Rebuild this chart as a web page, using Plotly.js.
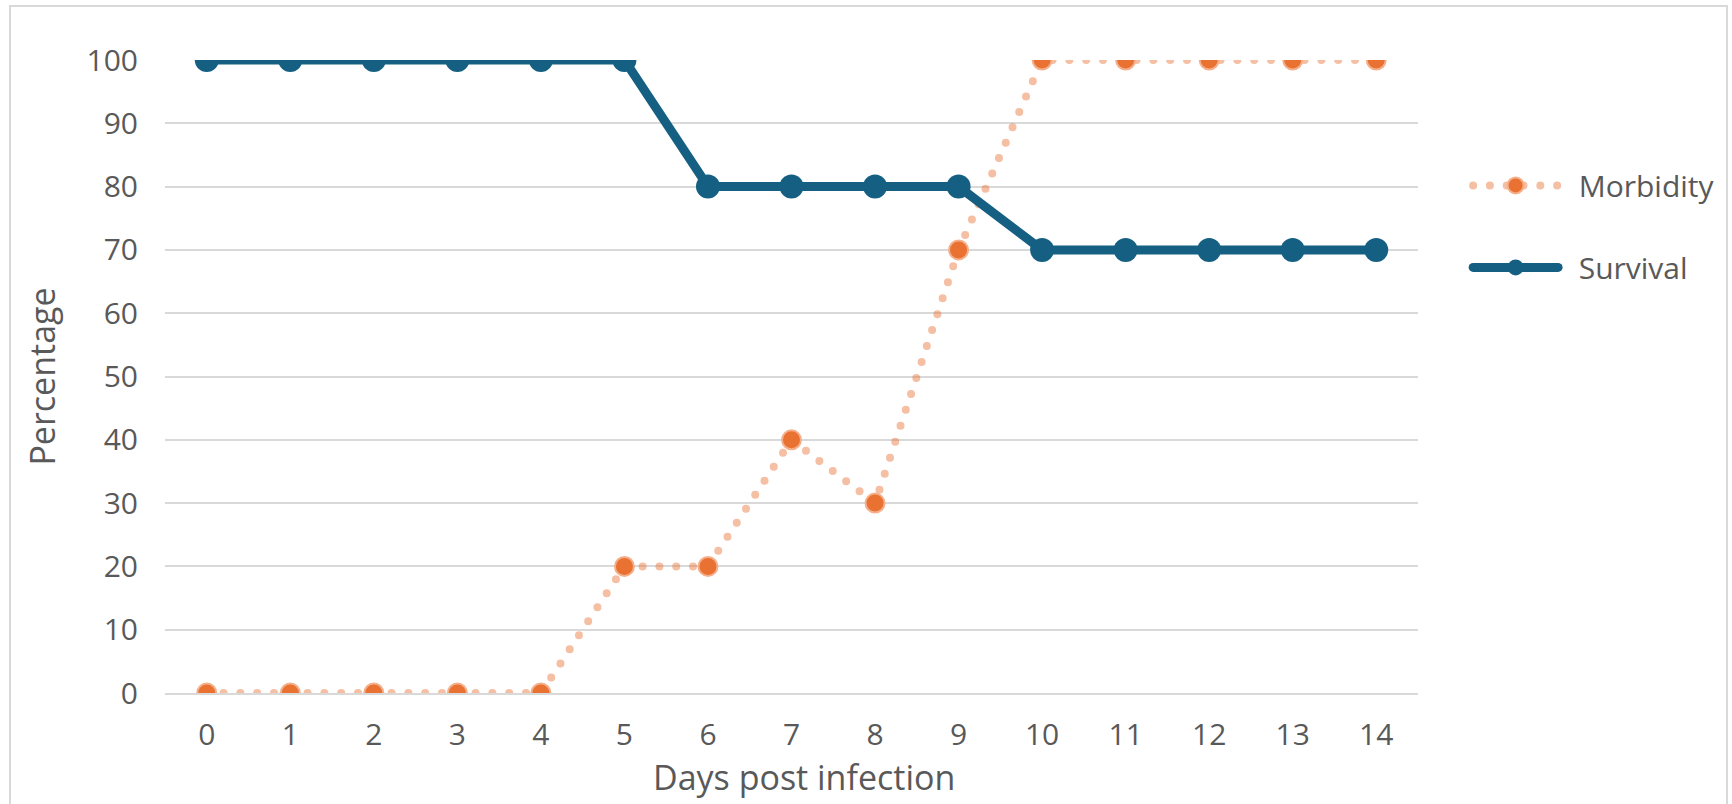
<!DOCTYPE html>
<html>
<head>
<meta charset="utf-8">
<script src="https://cdn.plot.ly/plotly-3.0.1.min.js"></script>
<style>
  html, body { margin: 0; padding: 0; background: #ffffff; }
  #chart { width: 1732px; height: 804px; }
  #frame { position: absolute; left: 9px; top: 5px; width: 1719px; height: 830px;
           border: 2px solid #d9d9d9; pointer-events: none; box-sizing: border-box; }
  path.js-line { stroke-linecap: round !important; }
</style>
</head>
<body>
<div id="chart"></div>
<div id="frame"></div>
<script>
const days = [0, 1, 2, 3, 4, 5, 6, 7, 8, 9, 10, 11, 12, 13, 14];
const dayLabels = ["0","1","2","3","4","5","6","7","8","9","10","11","12","13","14"];
const morbidity = [0, 0, 0, 0, 0, 20, 20, 40, 30, 70, 100, 100, 100, 100, 100];
const survival = [100, 100, 100, 100, 100, 100, 80, 80, 80, 80, 70, 70, 70, 70, 70];
const yTicks = [0, 10, 20, 30, 40, 50, 60, 70, 80, 90, 100];
const seriesNames = ["Morbidity", "Survival"];
const xTitle = "Days post infection";
const yTitle = "Percentage";

const FONT = "'Open Sans', 'Liberation Sans', sans-serif";
const textColor = "#595959";
const pad = "\u00a0\u00a0";

const traces = [
  {
    x: days, y: morbidity, name: pad + seriesNames[0], type: "scatter", mode: "lines+markers",
    legendgroup: "a",
    line: { color: "rgba(233,113,50,0.45)", width: 8, dash: "0px,16.8px" },
    marker: { color: "#E97132", size: 19, line: { color: "#F4B08C", width: 2 } }
  },
  {
    x: days, y: survival, name: pad + seriesNames[1], type: "scatter", mode: "lines+markers",
    legendgroup: "b",
    line: { color: "#156082", width: 9 },
    marker: { color: "#156082", size: 24 }
  }
];

const layout = {
  width: 1732, height: 804,
  margin: { l: 165, r: 311, t: 60, b: 111 },
  paper_bgcolor: "#ffffff", plot_bgcolor: "#ffffff",
  font: { family: FONT, size: 30, color: textColor },
  showlegend: true,
  legend: {
    x: 1.04, xanchor: "left", y: 0.843, yanchor: "top",
    itemwidth: 85, tracegroupgap: 40,
    font: { family: FONT, size: 30, color: textColor },
    bgcolor: "rgba(0,0,0,0)"
  },
  xaxis: {
    range: [-0.5, 14.5], tickmode: "array", tickvals: days, ticktext: dayLabels,
    showgrid: false, zeroline: false, showline: true, linecolor: "#d9d9d9", linewidth: 2,
    ticks: "", ticklabelstandoff: 14,
    tickfont: { family: FONT, size: 30, color: textColor }
  },
  yaxis: {
    range: [0, 100], tickmode: "array", tickvals: yTicks,
    showgrid: true, gridcolor: "#d9d9d9", gridwidth: 2, zeroline: false, showline: false,
    ticks: "", ticklabelstandoff: 26,
    tickfont: { family: FONT, size: 30, color: textColor },
    title: { text: yTitle, standoff: 20, font: { family: FONT, size: 34, color: textColor } }
  },
  annotations: [
    { text: xTitle, xref: "paper", yref: "paper", x: 0.5096, y: -0.132,
      xanchor: "center", yanchor: "middle", showarrow: false,
      font: { family: FONT, size: 34, color: textColor } }
  ]
};

Plotly.newPlot("chart", traces, layout, { displayModeBar: false, staticPlot: true });
</script>
</body>
</html>
